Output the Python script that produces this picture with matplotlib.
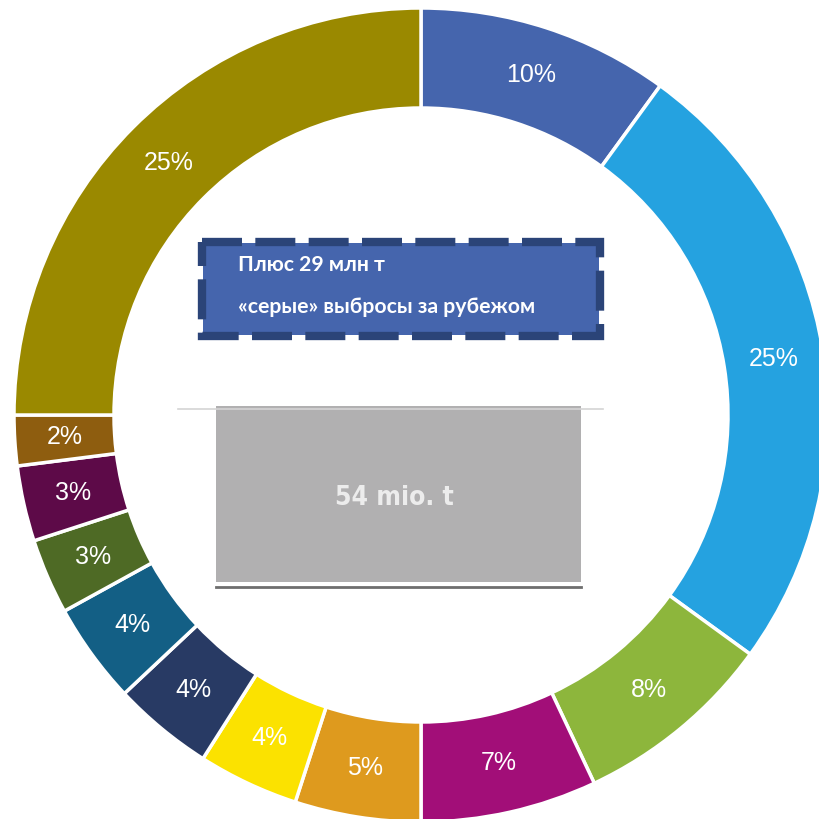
import matplotlib
matplotlib.use("Agg")
import matplotlib.pyplot as plt
from matplotlib.patches import Rectangle
import numpy as np

# Shares of the ring, clockwise from 12 o'clock
shares = [10, 25, 8, 7, 5, 4, 4, 4, 3, 3, 2, 25]
colors = ["#4565AD", "#25A2E0", "#8DB63C", "#A20E78", "#DE9A1E", "#FBE200",
          "#283A64", "#135F85", "#4E6A25", "#5D0A48", "#8E5D0F", "#9A8900"]

box_title = "Плюс 29 млн т"
box_subtitle = "«серые» выбросы за рубежом"
center_label = "54 mio. t"

W, H = 820, 819
fig = plt.figure(figsize=(W / 100, H / 100), dpi=100)

# Donut axes: centre at (421, 415) px, outer radius 407 px
cx, cy, R = 421, 415, 407
ax = fig.add_axes([(cx - R) / W, (H - cy - R) / H, 2 * R / W, 2 * R / H])
ring_w = 100 / R
wedges, _ = ax.pie(shares, colors=colors, startangle=90, counterclock=False,
                   radius=1.0,
                   wedgeprops=dict(width=ring_w, edgecolor="white", linewidth=2.5))
ax.set_xlim(-1, 1)
ax.set_ylim(-1, 1)
ax.set_aspect("auto")
ax.axis("off")

# Percentage labels in the middle of each segment
r_lab = 1 - ring_w / 2
total = sum(shares)
cum = 0
for v in shares:
    mid = 90 - 360 * (cum + v / 2) / total
    cum += v
    a = np.deg2rad(mid)
    ax.text(r_lab * np.cos(a), r_lab * np.sin(a), f"{v}%", color="white",
            ha="center", va="center", fontsize=18, family="Liberation Sans")

# Overlay in pixel coordinates for the centre annotations
ov = fig.add_axes([0, 0, 1, 1], zorder=5)
ov.set_xlim(0, W)
ov.set_ylim(H, 0)
ov.axis("off")
ov.patch.set_alpha(0)

# Blue call-out box with dashed navy frame
ov.add_patch(Rectangle((203, 243), 396, 92, facecolor="#4565AD", edgecolor="none"))
ov.add_patch(Rectangle((202, 242), 398, 94, facecolor="none", edgecolor="#2B4478",
                       linewidth=6, linestyle=(0, (4.8, 1.6))))
ov.text(238, 265, box_title, color="white", fontsize=15.3, fontweight="bold",
        family="Lato", ha="left", va="center")
ov.text(238, 307, box_subtitle, color="white", fontsize=15.3, fontweight="bold",
        family="Lato", ha="left", va="center")

# Grey bar with baseline
ov.plot([178, 603], [409, 409], color="#D4D4D4", linewidth=1.2)
ov.add_patch(Rectangle((216, 406), 365, 176, facecolor="#B1B0B1", edgecolor="none"))
ov.plot([216, 581], [587, 587], color="#6E6E6E", linewidth=2)
ov.text(394, 498, center_label, color="#ECECEC", fontsize=19, fontweight="bold",
        family="DejaVu Sans", fontstretch="condensed", ha="center", va="center")

fig.savefig("out.png", dpi=100, facecolor="white")
